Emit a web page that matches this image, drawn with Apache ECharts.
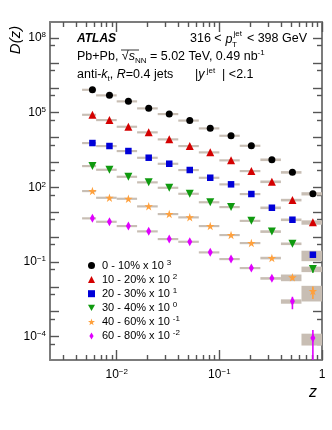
<!DOCTYPE html>
<html>
<head>
<meta charset="utf-8">
<title>D(z)</title>
<style>html,body{margin:0;padding:0;background:#fff}</style>
</head>
<body>
<script src="https://cdn.jsdelivr.net/npm/echarts@6/dist/echarts.min.js"></script>
<div id="main" style="width:332px;height:430px;"></div>
<script type="text/javascript">
    // z bins (centres and edges)
    var zCenter = [0.0058, 0.0085, 0.013, 0.0205, 0.0325, 0.0515, 0.0815, 0.13, 0.205, 0.325, 0.515, 0.815];
    var zLow = [0.0046, 0.0063, 0.01, 0.0158, 0.0251, 0.0398, 0.0631, 0.1, 0.158, 0.251, 0.398, 0.631];
    var zHigh = [0.0063, 0.01, 0.0158, 0.0251, 0.0398, 0.0631, 0.1, 0.158, 0.251, 0.398, 0.631, 1.0];

    // D(z) per centrality, before the scale factor
    var d0010 = [839, 500, 287, 150, 88.5, 48.5, 23.5, 11.9, 4.71, 1.29, 0.401, 0.0553];
    var d1020 = [830, 508, 274, 163, 85.1, 45.8, 25.5, 12.2, 4.52, 1.68, 0.308, 0.0392];
    var d2030 = [604, 458, 288, 155, 88.9, 49.7, 24.3, 13.2, 5.38, 1.51, 0.498, 0.0195];
    var d3040 = [718, 511, 267, 159, 96.4, 55.3, 25.2, 16.1, 4.5, 1.67, 0.54, 0.0519];
    var d4060 = [710, 382, 348, 172, 84.3, 62.2, 27.8, 12.1, 5.75, 1.44, 0.24, 0.0676];
    var d6080 = [568, 414, 278, 170, 83.4, 65, 24.3, 13.1, 5.69, 2.19, 0.261, 0.0087];

    // relative systematic (boxes) and statistical (bars) uncertainties
    var sys0010 = [0.1, 0.1, 0.1, 0.1, 0.1, 0.1, 0.1, 0.1, 0.1, 0.12, 0.12, 0.15];
    var sys1020 = [0.1, 0.1, 0.1, 0.1, 0.1, 0.1, 0.1, 0.1, 0.1, 0.12, 0.12, 0.2];
    var sys2030 = [0.1, 0.1, 0.1, 0.1, 0.1, 0.1, 0.1, 0.1, 0.1, 0.12, 0.12, 0.45];
    var sys3040 = [0.1, 0.1, 0.1, 0.1, 0.1, 0.1, 0.1, 0.1, 0.1, 0.12, 0.12, 0.25];
    var sys4060 = [0.1, 0.1, 0.1, 0.1, 0.1, 0.1, 0.1, 0.1, 0.1, 0.12, 0.3, 0.62];
    var sys6080 = [0.1, 0.1, 0.1, 0.1, 0.1, 0.1, 0.1, 0.1, 0.1, 0.12, 0.2, 0.5];
    var stat0010 = [0.01, 0.01, 0.01, 0.01, 0.01, 0.01, 0.01, 0.01, 0.02, 0.03, 0.05, 0.1];
    var stat1020 = [0.01, 0.01, 0.01, 0.01, 0.01, 0.01, 0.01, 0.01, 0.02, 0.03, 0.06, 0.12];
    var stat2030 = [0.01, 0.01, 0.01, 0.01, 0.01, 0.01, 0.01, 0.01, 0.02, 0.04, 0.08, 0.2];
    var stat3040 = [0.01, 0.01, 0.01, 0.01, 0.01, 0.01, 0.01, 0.01, 0.02, 0.04, 0.08, 0.3];
    var stat4060 = [0.01, 0.01, 0.01, 0.01, 0.01, 0.01, 0.01, 0.02, 0.03, 0.06, 0.15, 0.52];
    var stat6080 = [0.01, 0.01, 0.01, 0.01, 0.02, 0.02, 0.03, 0.04, 0.06, 0.1, 0.52, 1.1];

    var names = ['0 - 10%', '10 - 20%', '20 - 30%', '30 - 40%', '40 - 60%', '60 - 80%'];
    var powers = [3, 2, 1, 0, -1, -2];

    // axis ticks
    var xMajorTicks = [0.01, 0.1, 1];
    var xMinorTicks = [0.003, 0.004, 0.005, 0.006, 0.007, 0.008, 0.009,
        0.02, 0.03, 0.04, 0.05, 0.06, 0.07, 0.08, 0.09,
        0.2, 0.3, 0.4, 0.5, 0.6, 0.7, 0.8, 0.9];
    var yMajorTicks = [1e-4, 1e-3, 1e-2, 1e-1, 1, 1e1, 1e2, 1e3, 1e4, 1e5, 1e6, 1e7, 1e8];
    var yMinorTicks = [5e-5, 5e-4, 5e-3, 5e-2, 5e-1, 5, 5e1, 5e2, 5e3, 5e4, 5e5, 5e6, 5e7];
    var yLabelTicks = [1e-4, 1e-1, 1e2, 1e5, 1e8];

    var xMin = 0.00224, xMax = 1;
    var yMin = 1.14e-5, yMax = 4.44e8;

    var allD = [d0010, d1020, d2030, d3040, d4060, d6080];
    var allSys = [sys0010, sys1020, sys2030, sys3040, sys4060, sys6080];
    var allStat = [stat0010, stat1020, stat2030, stat3040, stat4060, stat6080];
    var colors = ['#000000', '#d40000', '#0000d8', '#0f9a0f', '#ffa03c', '#e000ff'];
    var symbols = ['circle', 'triangle', 'rect', 'path://M0,0L10,0L5,9Z',
        'path://M5,0L6.2,3.6L10,3.6L6.9,5.9L8.1,9.5L5,7.3L1.9,9.5L3.1,5.9L0,3.6L3.8,3.6Z',
        'path://M3,0L6,5L3,10L0,5Z'];
    var symbolSizes = [7, 8, 6.5, 8, 8.5, [5, 9]];

    var FONT = "'Liberation Sans', Arial, sans-serif";

    function expLabel(v) {
        var e = Math.round(Math.log10(v));
        if (e === 0) return '{b|1}';
        return '{b|10}{e|' + (e < 0 ? '\u2212' + (-e) : e) + '}';
    }
    var labelRich = {
        b: {fontSize: 12, fontFamily: FONT, color: '#000', verticalAlign: 'middle', lineHeight: 14},
        e: {fontSize: 8, fontFamily: FONT, color: '#000', verticalAlign: 'top', lineHeight: 6}
    };

    function makeAxis(pos, ticks, len, line, labels) {
        return {
            type: 'log', logBase: 10, position: pos,
            min: (pos === 'top' || pos === 'bottom') ? xMin : yMin,
            max: (pos === 'top' || pos === 'bottom') ? xMax : yMax,
            axisLine: {show: line, onZero: false, lineStyle: {color: '#7c7c7c', width: 2}},
            axisTick: {show: true, inside: true, length: len, customValues: ticks,
                lineStyle: {color: '#555', width: 1.4}},
            axisLabel: labels ? {show: true, customValues: labels, formatter: expLabel, rich: labelRich,
                margin: (pos === 'bottom') ? 8 : 4} : {show: false},
            splitLine: {show: false},
            minorTick: {show: false}
        };
    }

    function renderBox(params, api) {
        var p0 = api.coord([api.value(0), api.value(2)]);
        var p1 = api.coord([api.value(1), api.value(3)]);
        return {
            type: 'rect',
            shape: {x: p0[0], y: p0[1], width: p1[0] - p0[0], height: Math.max(p1[1] - p0[1], 2)},
            style: {fill: '#c8beb4'}
        };
    }

    function makeBar(color) {
        return function (params, api) {
            var p0 = api.coord([api.value(0), api.value(1)]);
            var p1 = api.coord([api.value(0), api.value(2)]);
            return {
                type: 'line',
                shape: {x1: p0[0], y1: p0[1], x2: p1[0], y2: p1[1]},
                style: {stroke: color, lineWidth: 1.6}
            };
        };
    }

    var series = [];
    for (var k = 0; k < names.length; k++) {
        var f = Math.pow(10, powers[k]);
        var pts = [], boxes = [], bars = [];
        for (var i = 0; i < zCenter.length; i++) {
            var y = allD[k][i] * f;
            var s = allSys[k][i], e = allStat[k][i];
            pts.push([zCenter[i], y]);
            boxes.push([zLow[i], zHigh[i], y * (1 + s), y * (1 - s)]);
            bars.push([zCenter[i], y * (1 + e), (e < 1 ? y * (1 - e) : yMin)]);
        }
        series.push({
            type: 'custom', name: 'sys' + k, renderItem: renderBox, data: boxes,
            encode: {x: [0, 1], y: [2, 3]}, clip: true, z: 1, silent: true
        });
        series.push({
            type: 'custom', name: 'stat' + k, renderItem: makeBar(colors[k]), data: bars,
            encode: {x: 0, y: [1, 2]}, clip: true, z: 2, silent: true
        });
        series.push({
            type: 'scatter', name: names[k], data: pts,
            symbol: symbols[k], symbolSize: symbolSizes[k],
            itemStyle: {color: colors[k], opacity: 1}, z: 3
        });
    }

    var richMain = {
        n: {fontSize: 12.5, fontFamily: FONT, lineHeight: 16, verticalAlign: 'middle'},
        i: {fontSize: 12.5, fontFamily: FONT, fontStyle: 'italic', lineHeight: 16, verticalAlign: 'middle'},
        d: {fontSize: 8, fontFamily: FONT, lineHeight: 8, verticalAlign: 'bottom'},
        u: {fontSize: 8, fontFamily: FONT, lineHeight: 8, verticalAlign: 'top'}
    };

    var myChart = echarts.init(document.getElementById('main'));
    var option = {
        animation: false,
        textStyle: {fontFamily: FONT},
        grid: {left: 50, top: 22, width: 272, height: 338, containLabel: false},
        xAxis: [
            makeAxis('bottom', xMajorTicks, 10, true, xMajorTicks),
            makeAxis('bottom', xMinorTicks, 5, false, null),
            makeAxis('top', xMajorTicks, 10, true, null),
            makeAxis('top', xMinorTicks, 5, false, null)
        ],
        yAxis: [
            makeAxis('left', yMajorTicks, 9, true, yLabelTicks),
            makeAxis('left', yMinorTicks, 5, false, null),
            makeAxis('right', yMajorTicks, 9, true, null),
            makeAxis('right', yMinorTicks, 5, false, null)
        ],
        legend: {
            data: names, orient: 'vertical', left: 88, top: 258.5, padding: 0,
            itemWidth: 7, itemHeight: 7, itemGap: 1.6,
            selectedMode: false,
            formatter: function (name) {
                var i = names.indexOf(name);
                var p = powers[i];
                return '{t|' + name + ' x 10}{s|' + (p < 0 ? '-' + (-p) : p) + '}';
            },
            textStyle: {
                padding: [0, 0, 0, 2],
                rich: {
                    t: {fontSize: 11, fontFamily: FONT, color: '#000', lineHeight: 14, verticalAlign: 'middle'},
                    s: {fontSize: 8, fontFamily: FONT, color: '#000', lineHeight: 6, verticalAlign: 'top', padding: [0, 0, 0, 3]}
                }
            }
        },
        graphic: [
            {type: 'text', x: 16, y: 40, rotation: Math.PI / 2,
                style: {text: 'D(z)', font: 'italic 15px ' + FONT, fill: '#000', align: 'center', verticalAlign: 'middle'}},
            {type: 'text', x: 313, y: 393,
                style: {text: 'z', font: 'italic 16px ' + FONT, fill: '#000', align: 'center', verticalAlign: 'middle'}},
            {type: 'text', x: 77, y: 39,
                style: {text: 'ATLAS', font: 'italic bold 12px ' + FONT, fill: '#000', verticalAlign: 'middle'}},
            {type: 'text', x: 190, y: 39,
                style: {text: '316 <', font: '12.5px ' + FONT, fill: '#000', verticalAlign: 'middle'}},
            {type: 'text', x: 225.5, y: 40,
                style: {text: 'p', font: 'italic 12.5px ' + FONT, fill: '#000', verticalAlign: 'middle'}},
            {type: 'text', x: 233.5, y: 34,
                style: {text: 'jet', font: '8px ' + FONT, fill: '#000', verticalAlign: 'middle'}},
            {type: 'text', x: 232, y: 45,
                style: {text: 'T', font: '8px ' + FONT, fill: '#000', verticalAlign: 'middle'}},
            {type: 'text', x: 307, y: 39,
                style: {text: '< 398 GeV', font: '12.5px ' + FONT, fill: '#000', align: 'right', verticalAlign: 'middle'}},
            {type: 'text', x: 77, y: 57,
                style: {
                    text: '{n|Pb+Pb, \u221A}{i|s}{d|NN}{n| = 5.02 TeV, 0.49 nb}{u|-1}',
                    fill: '#000', verticalAlign: 'middle', rich: richMain
                }},
            {type: 'line', shape: {x1: 121, y1: 50, x2: 139, y2: 50}, style: {stroke: '#000', lineWidth: 0.8}},
            {type: 'text', x: 77, y: 75,
                style: {
                    text: '{n|anti-}{i|k}{d|t}{n|, }{i|R}{n|=0.4 jets}',
                    fill: '#000', verticalAlign: 'middle', rich: richMain
                }},
            {type: 'text', x: 195, y: 75,
                style: {
                    text: '{n||}{i|y}{u| jet}{n|  | <2.1}',
                    fill: '#000', verticalAlign: 'middle', rich: richMain
                }}
        ],
        series: series
    };
    myChart.setOption(option);
</script>
</body>
</html>
